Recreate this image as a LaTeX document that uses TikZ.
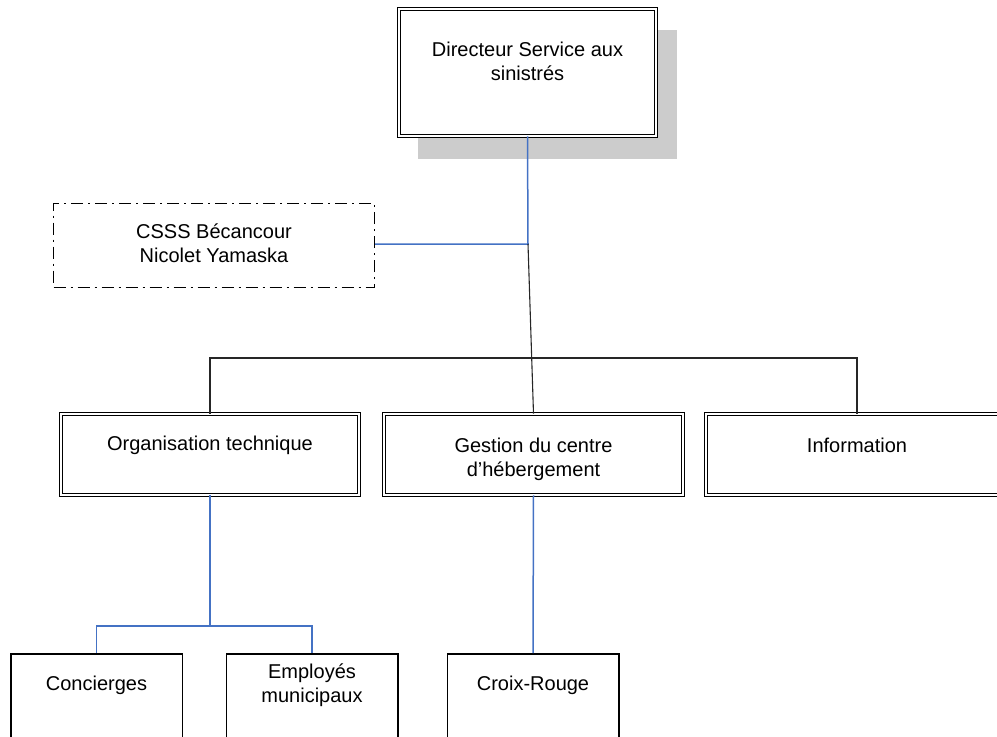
\documentclass[tikz,border=0pt]{standalone}
\usepackage{fontspec}
\setmainfont{Liberation Sans}
\usetikzlibrary{positioning,backgrounds}

\definecolor{linkblue}{RGB}{68,114,196}
\definecolor{shadowgray}{RGB}{204,204,204}

\begin{document}
\begin{tikzpicture}[x=1pt,y=-1pt,
  dblbox/.style={draw, double, double distance=2pt, line width=1.1pt, fill=white,
    inner sep=0pt, minimum height=80.6pt},
  plainbox/.style={draw, line width=1.5pt, fill=white, inner sep=0pt,
    minimum width=171.5pt, minimum height=98.5pt},
  dashbox/.style={draw, line width=1.3pt, dash pattern=on 12pt off 5pt on 2pt off 5pt,
    inner sep=0pt, minimum width=320.7pt, minimum height=83.7pt},
  lbl/.style={font=\fontsize{20}{24}\selectfont, align=center, inner sep=0pt},
  blueline/.style={draw=linkblue, line width=1.5pt},
  blackline/.style={draw=black!85, line width=1.1pt}]
\useasboundingbox (0,0) rectangle (997,737);

\def\ya{454.5};
\def\yb{703};

% top
\node[dblbox, minimum width=256.6pt, minimum height=126.6pt] (dir) at (527.5, 72.5) {};
\begin{scope}[on background layer]
\fill[shadowgray] ([shift={(21,21)}]dir.south west) ++(-2,2) rectangle ([shift={(21,21)}]dir.north east) ++(2,-2);
\end{scope}
\node[lbl] (dirt) at (527.5, 61) {Directeur Service aux\\sinistrés};

\node[dashbox] (csss) at (214, 245.5) {};
\node[lbl] (csst) at (214, 243) {CSSS Bécancour\\Nicolet Yamaska};

% middle row
\node[dblbox, minimum width=297.6pt] (org) at (210, \ya) {};
\node[dblbox, minimum width=298.6pt] (gest) at (533.5, \ya) {};
\node[dblbox, minimum width=301.6pt] (info) at (857, \ya) {};
\node[lbl] (orgt) at (210, 445.5) {Organisation technique};
\node[lbl] (gestt) at (533.5, 459) {Gestion du centre\\d’hébergement};
\node[lbl] (infot) at (857, 445) {Information};

% bottom row
\node[plainbox] (conc) at (96.5, \yb) {};
\node[plainbox] (empl) at (312, \yb) {};
\node[plainbox] (croix) at (533, \yb) {};
\node[lbl] (conct) at (96.5, 685) {Concierges};
\node[lbl] (emplt) at (312, 685.5) {Employés\\municipaux};
\node[lbl] (croixt) at (533, 685) {Croix-Rouge};

\coordinate (jn) at (528, 244);
\coordinate (bus) at (533, 358);
\coordinate (bj) at (210, 626);

\draw[blueline] (dir.south) -- (jn) -- (csss.east |- jn);
\draw[blackline] (jn) -- (gest.north);
\draw[blackline] (org.north) |- (bus) -| (info.north);
\draw[blueline] (org.south) -- (bj);
\draw[blueline] (conc.north) |- (bj) -| (empl.north);
\draw[blueline] (gest.south) -- (croix.north);

\end{tikzpicture}
\end{document}
